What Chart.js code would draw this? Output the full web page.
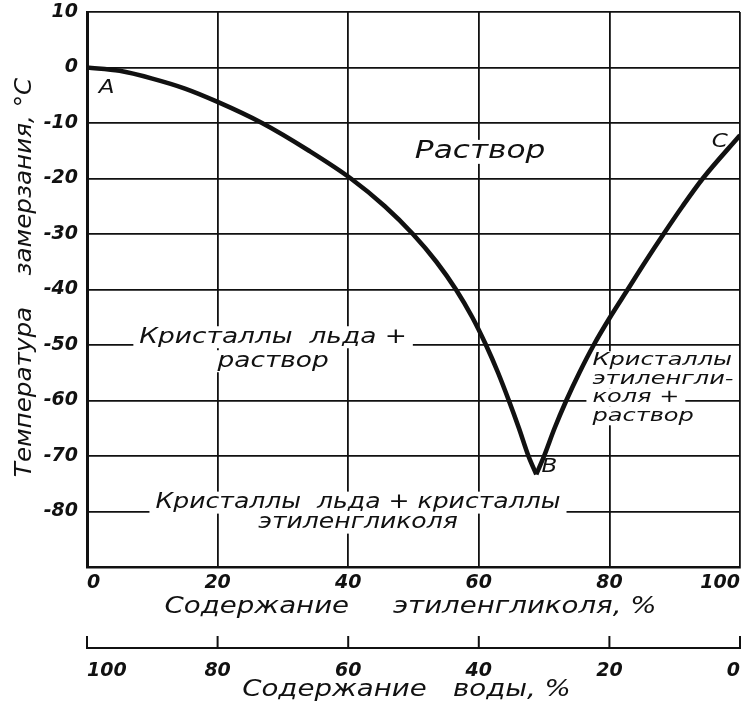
<!DOCTYPE html>
<html>
<head>
<meta charset="utf-8">
<script src="https://cdn.jsdelivr.net/npm/chart.js@4.4.1/dist/chart.umd.min.js"></script>
<style>
html, body { margin: 0; padding: 0; background: #fff; }
</style>
</head>
<body>
<canvas id="chartCanvas" width="752" height="704"></canvas>
<script>
// ветвь кристаллизации льда (A -> B)
const iceGlycol = [0, 5, 10, 15, 20, 26.8, 34, 40.4, 45.6, 49.9, 53.5, 56.5, 59.0, 61.1, 62.95, 64.6, 66.15, 67.6, 68.8];
const iceTemp = [0, -0.6, -2.0, -3.8, -6.2, -10, -15, -20, -25, -30, -35, -40, -45, -50, -55, -60, -65, -70, -73.3];
// ветвь кристаллизации этиленгликоля (B -> C)
const glycolGlycol = [68.8, 70.0, 71.6, 73.4, 75.4, 77.6, 80.1, 82.8, 85.5, 88.3, 91.2, 94.3, 100];
const glycolTemp = [-73.3, -70, -65, -60, -55, -50, -45, -40, -35, -30, -25, -20, -12.2];

const tempTicks = [10, 0, -10, -20, -30, -40, -50, -60, -70, -80];
const percentTicks = [0, 20, 40, 60, 80, 100];

const pointNames = ['A', 'B', 'C'];
const regionTexts = [
	['Раствор'],
	['Кристаллы  льда +', 'раствор'],
	['Кристаллы  льда + кристаллы', 'этиленгликоля'],
	['Кристаллы', 'этиленгли-', 'коля +', 'раствор']
];
const titleGlycol = 'Содержание     этиленгликоля, %';
const titleWater = 'Содержание   воды, %';
const titleTemp = 'Температура    замерзания, °С';

const FAM = '"DejaVu Sans", "Liberation Sans", sans-serif';
const INK = '#111';

// где ставить подписи (в единицах осей)
const pointPlace = [
	{ x: 3.0, y: -3.6 },
	{ x: 70.8, y: -72.0 },
	{ x: 96.9, y: -13.4 }
];
const regionPlace = [
	{ x: 60.2, y: -15.2, size: 24, sx: 1.3, lh: 26, align: 'center' },
	{ x: 28.5, y: -48.6, size: 22, sx: 1.2, lh: 24, align: 'center' },
	{ x: 41.5, y: -78.4, size: 22, sx: 1.14, lh: 20, align: 'center' },
	{ x: 77.4, y: -52.8, size: 18.5, sx: 1.3, lh: 18.5, align: 'left' }
];

function toXY(xs, ys) {
	return xs.map((x, i) => ({ x: x, y: ys[i] }));
}

function wideText(ctx, text, x, y, size, sx, opts) {
	opts = opts || {};
	const align = opts.align || 'center';
	ctx.save();
	ctx.font = `italic ${size}px ${FAM}`;
	ctx.textAlign = align;
	ctx.textBaseline = 'middle';
	const w = ctx.measureText(text).width * sx;
	if (opts.erase) {
		const a = opts.area;
		let x0 = (align === 'left' ? x : x - w / 2) - 6;
		let x1 = (align === 'left' ? x + w : x + w / 2) + 6;
		x0 = Math.max(x0, a.left + 3);
		x1 = Math.min(x1, a.right - 3);
		ctx.fillStyle = '#fff';
		ctx.fillRect(x0, y - size * 0.5, x1 - x0, size);
	}
	ctx.translate(x, y);
	if (opts.rotate) ctx.rotate(opts.rotate);
	ctx.scale(sx, 1);
	ctx.fillStyle = INK;
	ctx.fillText(text, 0, 0);
	ctx.restore();
}

const labelsPlugin = {
	id: 'phaseLabels',
	beforeDatasetsDraw(chart) {
		const ctx = chart.ctx;
		const xs = chart.scales.x, ys = chart.scales.y;
		regionTexts.forEach((lines, i) => {
			const p = regionPlace[i];
			const cx = xs.getPixelForValue(p.x);
			const cy = ys.getPixelForValue(p.y);
			lines.forEach((t, k) => {
				wideText(ctx, t, cx, cy + k * p.lh, p.size, p.sx,
					{ erase: true, area: chart.chartArea, align: p.align });
			});
		});
	},
	afterDatasetsDraw(chart) {
		const ctx = chart.ctx;
		const xs = chart.scales.x, ys = chart.scales.y;
		pointNames.forEach((n, i) => {
			const p = pointPlace[i];
			wideText(ctx, n, xs.getPixelForValue(p.x), ys.getPixelForValue(p.y), 20, 1.15);
		});
	},
	afterDraw(chart) {
		const ctx = chart.ctx;
		const xs = chart.scales.x, x2 = chart.scales.x2, ys = chart.scales.y;
		// засечки второй шкалы смотрят вверх
		ctx.save();
		ctx.strokeStyle = INK;
		ctx.lineWidth = 2;
		percentTicks.forEach(v => {
			const px = x2.getPixelForValue(v);
			ctx.beginPath();
			ctx.moveTo(px, x2.top + 1);
			ctx.lineTo(px, x2.top - 12);
			ctx.stroke();
		});
		ctx.restore();
		// подписи осей
		const midX = (xs.left + xs.right) / 2 - 3;
		wideText(ctx, titleGlycol, midX, xs.top + 40, 23, 1.2);
		wideText(ctx, titleWater, midX - 4, x2.top + 42, 23, 1.2);
		wideText(ctx, titleTemp, 25, (ys.top + ys.bottom) / 2 - 12, 23, 1.07, { rotate: -Math.PI / 2 });
	}
};

const tickFont = { family: FAM, size: 19, style: 'italic', weight: 'bold' };

const ctx = document.getElementById('chartCanvas').getContext('2d');
const chart = new Chart(ctx, {
	type: 'line',
	data: {
		datasets: [
			{
				data: toXY(iceGlycol, iceTemp),
				borderColor: INK,
				borderWidth: 4.6,
				pointRadius: 0,
				cubicInterpolationMode: 'monotone',
				xAxisID: 'x',
				yAxisID: 'y'
			},
			{
				data: toXY(glycolGlycol, glycolTemp),
				borderColor: INK,
				borderWidth: 4.6,
				pointRadius: 0,
				cubicInterpolationMode: 'monotone',
				xAxisID: 'x',
				yAxisID: 'y'
			}
		]
	},
	options: {
		responsive: false,
		animation: false,
		events: [],
		layout: { padding: { top: 12, right: 12, left: 0, bottom: 0 } },
		plugins: { legend: { display: false }, tooltip: { enabled: false } },
		scales: {
			x: {
				type: 'linear',
				position: 'bottom',
				min: 0,
				max: 100,
				afterBuildTicks: s => { s.ticks = percentTicks.map(v => ({ value: v })); },
				afterFit: s => { s.height = 81; s.paddingLeft = 0; s.paddingRight = 0; },
				grid: { color: INK, lineWidth: 1.8, drawTicks: false },
				border: { color: INK, width: 2.5 },
				ticks: { color: INK, font: tickFont, align: 'inner', padding: 5, maxRotation: 0 }
			},
			x2: {
				type: 'linear',
				position: 'bottom',
				reverse: true,
				min: 0,
				max: 100,
				afterBuildTicks: s => { s.ticks = percentTicks.map(v => ({ value: v })); },
				afterFit: s => { s.height = 56; s.paddingLeft = 0; s.paddingRight = 0; },
				grid: { display: false },
				border: { display: true, color: INK, width: 2 },
				ticks: { color: INK, font: tickFont, align: 'inner', padding: 4, maxRotation: 0 }
			},
			y: {
				type: 'linear',
				min: -90,
				max: 10,
				afterBuildTicks: s => { s.ticks = [-90].concat(tempTicks).map(v => ({ value: v })); },
				afterFit: s => { s.width = 87; s.paddingTop = 0; s.paddingBottom = 0; },
				grid: { color: INK, lineWidth: 1.8, drawTicks: false },
				border: { color: INK, width: 3 },
				ticks: {
					color: INK,
					font: tickFont,
					padding: 9,
					callback: v => (tempTicks.includes(v) ? String(v) : '')
				}
			}
		}
	},
	plugins: [labelsPlugin]
});
</script>
</body>
</html>
